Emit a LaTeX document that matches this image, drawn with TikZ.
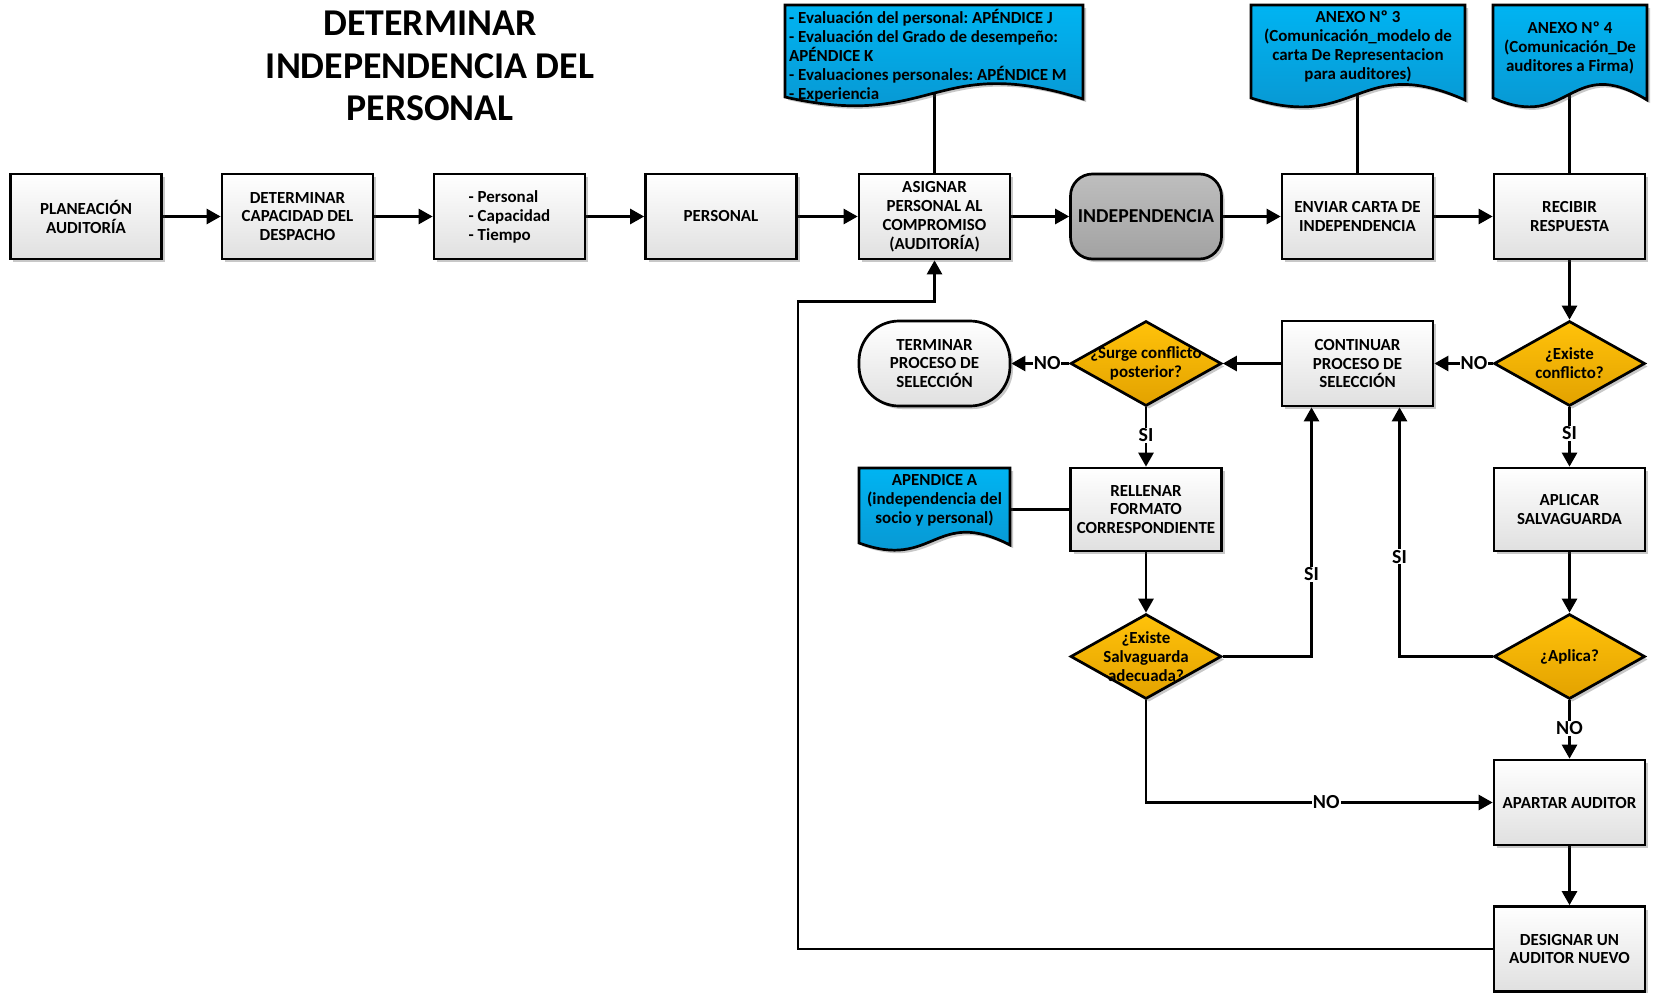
\documentclass[tikz,border=0pt]{standalone}
\usepackage{fontspec}
\setmainfont{Carlito}
\frenchspacing
\usetikzlibrary{shapes.geometric,arrows.meta,shadows,backgrounds}
\definecolor{dtop}{HTML}{FFC20A}
\definecolor{dbot}{HTML}{E3A200}
\definecolor{btop}{HTML}{00B4F2}
\definecolor{bbot}{HTML}{0A92CC}
\definecolor{gtop}{HTML}{BEBEBE}
\definecolor{gbot}{HTML}{A2A2A2}
\definecolor{wbot}{HTML}{E0E0E0}
\newcommand\docpath[4]{%
  \pgfmathsetmacro\dcH{#4-#2}%
  \pgfmathsetmacro\dcM{(#1+#3)/2}%
  \pgfmathsetmacro\dcA{-(#4+2)}%
  \pgfmathsetmacro\dcB{-(#4-0.49*\dcH)}%
  \pgfmathsetmacro\dcC{-(#4+0.37*\dcH)}%
  \path[docshape] (#1,-#2) -- (#3,-#2) -- (#3,\dcA) .. controls (\dcM,\dcB) and (\dcM,\dcC) .. (#1,-#4) -- cycle;}
\begin{document}
\begin{tikzpicture}[x=1bp,y=1bp,
  every node/.style={font=\bfseries\fontsize{17}{19}\selectfont},
  lw/.style={line width=2.7bp},
  sh/.style={drop shadow={shadow xshift=3bp,shadow yshift=-3bp,opacity=0.3,fill=black!70}},
  box/.style={rectangle,draw,lw,minimum width=151bp,minimum height=85bp,top color=white,bottom color=wbot,align=center,inner sep=1bp,sh},
  indep/.style={box,rounded corners=22bp,top color=gtop,bottom color=gbot,font=\bfseries\fontsize{19.8}{22}\selectfont},
  term/.style={box,rounded corners=40bp},
  dia/.style={diamond,draw,lw,minimum width=151bp,minimum height=85bp,inner sep=0pt,top color=dtop,bottom color=dbot,sh},
  dlab/.style={align=center,inner sep=0pt},
  docshape/.style={draw,lw,top color=btop,bottom color=bbot,sh},
  doctext/.style={align=center,inner sep=0pt},
  conn/.style={lw,-{Triangle[length=14bp,width=15bp]}},
  ln/.style={lw},
  lab/.style={fill=white,inner sep=1bp,font=\bfseries\fontsize{20}{21}\selectfont},
  titlestyle/.style={align=center,font=\bfseries\fontsize{38}{43}\selectfont}]
\useasboundingbox (0,0) rectangle (1653,-992);

\node[titlestyle] (title) at (430,-66) {DETERMINAR\\INDEPENDENCIA DEL\\PERSONAL};

% documents
\docpath{785}{5}{1083}{97}
\node[doctext,anchor=west,align=left] (docJ) at (789,-56) {- Evaluación del personal: APÉNDICE J\\- Evaluación del Grado de desempeño:\\APÉNDICE K\\- Evaluaciones personales: APÉNDICE M\\- Experiencia};
\docpath{1251}{5}{1465}{98}
\node[doctext] (anexo3) at (1358,-46.5) {ANEXO Nº 3\\(Comunicación\_modelo de\\carta De Representacion\\para auditores)};
\docpath{1493}{5}{1647}{98}
\node[doctext] (anexo4) at (1570,-48) {ANEXO Nº 4\\(Comunicación\_De\\auditores a Firma)};
\docpath{859}{468}{1010}{543}
\node[doctext] (apA) at (934.5,-500) {APENDICE A\\(independencia del\\socio y personal)};

% row 1
\node[box] (b1) at (86,-216.5) {PLANEACIÓN\\AUDITORÍA};
\node[box] (b2) at (297.5,-216.5) {DETERMINAR\\CAPACIDAD DEL\\DESPACHO};
\node[box,align=left] (b3) at (509.5,-216.5) {- Personal\\- Capacidad\\- Tiempo};
\node[box] (b4) at (721,-216.5) {PERSONAL};
\node[box] (b5) at (934.5,-216.5) {ASIGNAR\\PERSONAL AL\\COMPROMISO\\(AUDITORÍA)};
\node[indep] (b6) at (1146,-216.5) {INDEPENDENCIA};
\node[box] (b7) at (1357.5,-216.5) {ENVIAR CARTA DE\\INDEPENDENCIA};
\node[box] (b8) at (1569.5,-216.5) {RECIBIR\\RESPUESTA};

% row 2
\node[term] (term) at (934.5,-363.5) {TERMINAR\\PROCESO DE\\SELECCIÓN};
\node[dia,label={[dlab]center:¿Surge conflicto\\posterior?}] (surge) at (1146,-363.5) {};
\node[box] (cont) at (1357.5,-363.5) {CONTINUAR\\PROCESO DE\\SELECCIÓN};
\node[dia,label={[dlab]center:¿Existe\\conflicto?}] (exc) at (1569.5,-363.5) {};

% row 3
\node[box,minimum height=83bp] (rell) at (1146,-509.5) {RELLENAR\\FORMATO\\CORRESPONDIENTE};
\node[box,minimum height=83bp] (apl) at (1569.5,-509.5) {APLICAR\\SALVAGUARDA};

% row 4
\node[dia,label={[dlab]center:¿Existe\\Salvaguarda\\adecuada?}] (salv) at (1146,-656.5) {};
\node[dia,label={[dlab]center:¿Aplica?}] (aplica) at (1569.5,-656.5) {};

% rows 5,6
\node[box] (apar) at (1569.5,-802.5) {APARTAR AUDITOR};
\node[box] (des) at (1569.5,-949) {DESIGNAR UN\\AUDITOR NUEVO};

\coordinate (fb) at (798,-301.5);

\begin{scope}[on background layer]
\fill[white] (0,0) rectangle (1653,-992);
\draw[conn] (b1) -- (b2);
\draw[conn] (b2) -- (b3);
\draw[conn] (b3) -- (b4);
\draw[conn] (b4) -- (b5);
\draw[conn] (b5) -- (b6);
\draw[conn] (b6) -- (b7);
\draw[conn] (b7) -- (b8);
\draw[ln] (docJ.center -| b5.north) -- (b5.north);
\draw[ln] (anexo3.center -| b7.north) -- (b7.north);
\draw[ln] (anexo4.center -| b8.north) -- (b8.north);
\draw[conn] (b8) -- (exc);
\draw[conn] (exc) -- node[lab,pos=0.32]{NO} (cont);
\draw[conn] (cont) -- (surge);
\draw[conn] (surge) -- node[lab,pos=0.38]{NO} (term);
\draw[conn] (surge) -- node[lab,pos=0.47]{SI} (rell);
\draw[ln] (rell.west) -- (rell.west -| apA.center);
\draw[conn] (rell) -- (salv);
\draw[conn] (salv.east) -| node[lab,pos=0.665]{SI} ([xshift=-46bp]cont.south);
\draw[conn] (aplica.west) -| node[lab,pos=0.70]{SI} ([xshift=42bp]cont.south);
\draw[conn] (salv.south) |- node[lab,pos=0.76]{NO} (apar.west);
\draw[conn] (exc) -- node[lab,pos=0.44]{SI} (apl);
\draw[conn] (apl) -- (aplica);
\draw[conn] (aplica) -- node[lab,pos=0.48]{NO} (apar);
\draw[conn] (apar) -- (des);
\draw[conn] (des.west) -| (fb) -| (b5.south);
\end{scope}
\end{tikzpicture}
\end{document}
